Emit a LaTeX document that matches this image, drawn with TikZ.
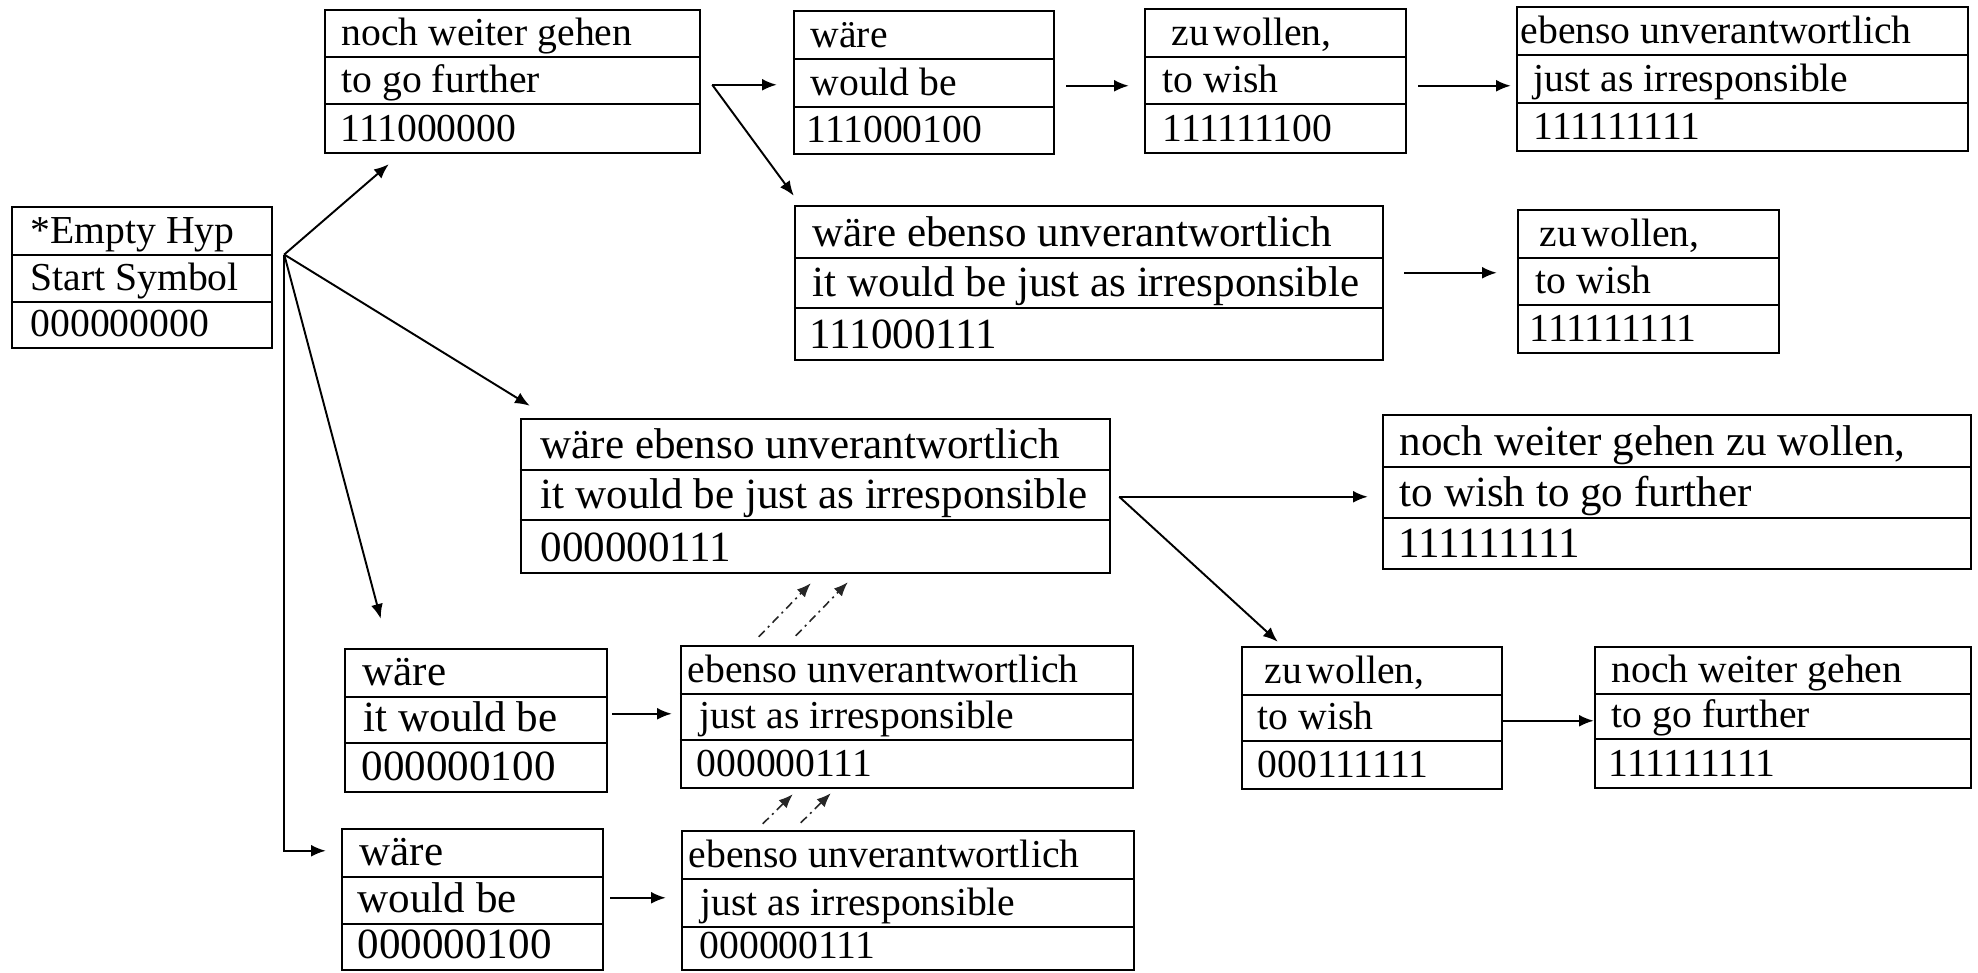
\documentclass[tikz,border=0pt]{standalone}
\usepackage{fontspec}
\setmainfont{Liberation Serif}
\usetikzlibrary{arrows.meta,calc,fit}

\newcommand\smallfont{\fontsize{11.27pt}{13pt}\selectfont}
\newcommand\bigfont{\fontsize{12.25pt}{14pt}\selectfont}
\newcommand\zuwollen{{\spaceskip=.12em zu wollen,}}

% a hypothesis box: name, left, top, right, bottom, first and second row divider
\newcommand\hypbox[7]{%
  \node[hbox, fit={(#2,#3) (#4,#5)}] (#1) {};
  \draw[hrule] (#1.west |- 0,#6) -- (#1.east |- 0,#6);
  \draw[hrule] (#1.west |- 0,#7) -- (#1.east |- 0,#7);
}

\begin{document}
\begin{tikzpicture}[
  x=0.01cm, y=-0.01cm,
  hbox/.style={draw, line width=0.7pt, inner sep=0pt},
  hrule/.style={line width=0.7pt},
  txt/.style={anchor=base west, inner sep=0pt, font=\smallfont},
  big/.style={font=\bigfont},
  arr/.style={line width=0.55pt, -{Latex[length=4.2pt,width=3.4pt]}},
  darr/.style={line width=0.45pt, draw=black!85,
    dash pattern=on 2.4pt off 1.3pt on 0.6pt off 1.3pt,
    -{Latex[length=4pt,width=3.2pt]}},
]
\fill[white] (0,0) rectangle (1978,972);
\useasboundingbox (0,0) rectangle (1978,972);

% ---- boxes ----
\hypbox{start}{12}{207}{272}{348}{255}{302}
\node[txt] (start-1) at (30,243) {*Empty Hyp};
\node[txt] (start-2) at (30,290) {Start Symbol};
\node[txt] (start-3) at (30,336) {000000000};

\hypbox{A}{325}{10}{700}{153}{57}{104}
\node[txt] (A-1) at (341,45) {noch weiter gehen};
\node[txt] (A-2) at (341,92) {to go further};
\node[txt] (A-3) at (340,141) {111000000};

\hypbox{B}{794}{11}{1054}{154}{59}{107}
\node[txt] (B-1) at (810,47) {wäre};
\node[txt] (B-2) at (810,95) {would be};
\node[txt] (B-3) at (806,142) {111000100};

\hypbox{C}{1145}{9}{1406}{153}{57}{104}
\node[txt] (C-1) at (1171,45) {\zuwollen};
\node[txt] (C-2) at (1162,92) {to wish};
\node[txt] (C-3) at (1162,141) {111111100};

\hypbox{E}{1517}{7}{1968}{151}{55}{103}
\node[txt] (E-1) at (1520,43) {ebenso unverantwortlich};
\node[txt] (E-2) at (1533,91) {just as irresponsible};
\node[txt] (E-3) at (1533,139) {111111111};

\hypbox{D}{795}{206}{1383}{360}{258}{308}
\node[txt,big] (D-1) at (812,246) {wäre ebenso unverantwortlich};
\node[txt,big] (D-2) at (812,296) {it would be just as irresponsible};
\node[txt,big] (D-3) at (809,348) {111000111};

\hypbox{F}{1518}{210}{1779}{353}{258}{305}
\node[txt] (F-1) at (1539,246) {\zuwollen};
\node[txt] (F-2) at (1535,293) {to wish};
\node[txt] (F-3) at (1529,341) {111111111};

\hypbox{G}{521}{419}{1110}{573}{470}{520}
\node[txt,big] (G-1) at (540,458) {wäre ebenso unverantwortlich};
\node[txt,big] (G-2) at (540,508) {it would be just as irresponsible};
\node[txt,big] (G-3) at (540,561) {000000111};

\hypbox{H}{1383}{415}{1971}{569}{467}{518}
\node[txt,big] (H-1) at (1399,455) {noch weiter gehen zu wollen,};
\node[txt,big] (H-2) at (1399,506) {to wish to go further};
\node[txt,big] (H-3) at (1398,557) {111111111};

\hypbox{I}{1242}{647}{1502}{789}{695}{741}
\node[txt] (I-1) at (1264,683) {\zuwollen};
\node[txt] (I-2) at (1257,729) {to wish};
\node[txt] (I-3) at (1257,777) {000111111};

\hypbox{J}{1595}{647}{1971}{788}{694}{739}
\node[txt] (J-1) at (1611,682) {noch weiter gehen};
\node[txt] (J-2) at (1611,727) {to go further};
\node[txt] (J-3) at (1608,776) {111111111};

\hypbox{K}{345}{649}{607}{792}{697}{743}
\node[txt,big] (K-1) at (362,685) {wäre};
\node[txt,big] (K-2) at (363,731) {it would be};
\node[txt,big] (K-3) at (361,780) {000000100};

\hypbox{L}{681}{646}{1133}{788}{694}{740}
\node[txt] (L-1) at (687,682) {ebenso unverantwortlich};
\node[txt] (L-2) at (699,728) {just as irresponsible};
\node[txt] (L-3) at (696,776) {000000111};

\hypbox{M}{342}{829}{603}{970}{877}{924}
\node[txt,big] (M-1) at (359,865) {wäre};
\node[txt,big] (M-2) at (357,912) {would be};
\node[txt,big] (M-3) at (357,958) {000000100};

\hypbox{N}{682}{831}{1134}{970}{879}{927}
\node[txt] (N-1) at (688,867) {ebenso unverantwortlich};
\node[txt] (N-2) at (700,915) {just as irresponsible};
\node[txt] (N-3) at (699,958) {000000111};

% ---- expansions from the empty hypothesis ----
\coordinate (fork) at ($(start.east)+(11,-23)$);
\draw[arr] (fork) -- ($(A.south west)+(65,10)$);
\draw[arr] (fork) -- ($(G.north west)+(10,-12)$);
\draw[arr] (fork) -- ($(K.north west)+(37,-29)$);
\draw[arr] (fork) |- ($(M.north west)+(-15,23)$);

% ---- further expansions ----
\coordinate (A-out) at ($(A.north east)+(11,76)$);
\draw[arr] (A-out) -- ($(B.north west)+(-16,75)$);
\draw[arr] (A-out) -- ($(D.north west)+(0,-9)$);
\draw[arr] ($(B.north east)+(11,76)$) -- ($(C.north west)+(-15,78)$);
\draw[arr] ($(C.north east)+(11,78)$) -- ($(E.north west)+(-5,80)$);
\draw[arr] ($(D.north east)+(20,68)$) -- ($(F.north west)+(-20,64)$);

\coordinate (G-out) at ($(G.north east)+(8,79)$);
\draw[arr] (G-out) -- ($(H.north west)+(-14,83)$);
\draw[arr] (G-out) -- ($(I.north west)+(37,-4)$);
\draw[arr] ($(I.north east)+(0,75)$) -- ($(J.north west)+(0,75)$);

\draw[arr] ($(K.north east)+(4,66)$) -- ($(L.north west)+(-8,69)$);
\draw[arr] ($(M.north east)+(6,70)$) -- ($(N.north west)+(-15,68)$);

% ---- recombination links ----
\draw[darr] ($(L.north west)+(79,-8)$) -- ($(G.south west)+(291,9)$);
\draw[darr] ($(L.north west)+(116,-9)$) -- ($(G.south west)+(328,8)$);
\draw[darr] ($(N.north west)+(82,-6)$) -- ($(L.south west)+(113,5)$);
\draw[darr] ($(N.north west)+(120,-7)$) -- ($(L.south west)+(151,4)$);
\end{tikzpicture}
\end{document}
